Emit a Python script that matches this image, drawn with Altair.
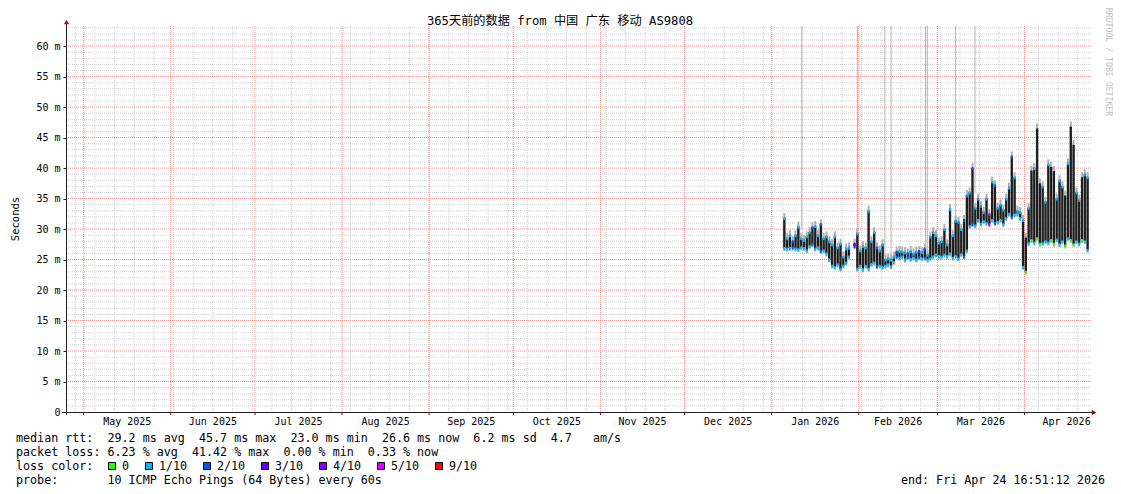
import altair as alt
import pandas as pd

# ---------------- data ----------------
title_text = "365天前的数据 from 中国 广东 移动 AS9808"
range_start = dict(year=2025, month=4, date=24, hours=16, minutes=51, seconds=12)
range_end = dict(year=2026, month=4, date=24, hours=16, minutes=51, seconds=12)

first_day = "2026-01-05T12:00:00"
rtt_low = [26.9, 26.8, 26.9, 27.0, 26.8, 26.7, 27.0, 26.9, 26.5, 27.2,
           27.5, 26.8, 27.0, 26.4, 26.5, 26.0, 25.0, 24.0, 23.8, 24.2,
           23.5, 24.0, 24.5, 25.5, None, 27.2, 23.5, 24.0, 23.4, 24.0,
           23.5, 24.3, 24.5, 23.9, 24.0, 23.8, 24.0, 24.2, 23.9, 24.6,
           25.5, 25.3, 25.5, 25.0, 25.4, 25.1, 25.3, 25.0, 25.4, 25.2,
           25.3, 25.0, 25.2, 25.5, 25.8, 25.6, 25.5, 25.8, 25.6, 26.0,
           25.3, 25.6, 25.2, 25.9, 25.5, 26.5, 30.5, 30.8, 30.6, 31.5,
           30.9, 31.3, 31.0, 30.8, 31.5, 31.0, 31.2, 31.5, 30.8, 31.8,
           32.5, 32.0, 32.4, 32.5, 31.8, 23.8, 23.0, 27.7, 28.2, 27.8,
           28.5, 27.6, 27.7, 28.0, 27.8, 28.2, 27.6, 28.3, 27.5, 28.0,
           27.3, 28.5, 28.2, 27.5, 28.0, 27.6, 28.2, 28.0, 26.6]
rtt_high = [31.8, 28.5, 29.0, 28.0, 29.0, 30.4, 28.5, 28.2, 28.8, 29.5,
            30.3, 30.5, 29.0, 30.8, 28.5, 28.8, 28.0, 27.5, 28.8, 27.0,
            27.6, 25.5, 26.8, 27.0, None, 27.6, 29.3, 26.5, 27.2, 27.0,
            33.0, 28.0, 29.5, 27.0, 26.5, 27.5, 25.0, 25.2, 25.0, 25.5,
            26.3, 26.4, 26.3, 26.2, 26.0, 26.4, 26.0, 26.3, 26.4, 26.2,
            26.8, 25.8, 28.8, 29.5, 29.0, 27.8, 28.0, 30.0, 27.5, 33.3,
            29.0, 31.4, 31.2, 30.0, 31.5, 35.6, 36.0, 40.0, 33.5, 35.0,
            33.8, 32.8, 35.0, 32.5, 37.8, 37.2, 33.5, 34.0, 33.2, 35.0,
            36.8, 41.9, 38.5, 33.0, 32.8, 31.5, 28.6, 33.5, 39.6, 40.0,
            46.5, 37.5, 37.0, 34.5, 40.6, 40.2, 39.5, 35.0, 38.0, 37.0,
            35.5, 40.8, 46.8, 43.8, 36.0, 34.8, 38.5, 39.0, 38.5]
# index into loss_labels, one per day
loss_code = [1, 1, 1, 2, 1, 1, 1, 1, 1, 1,
             2, 1, 1, 2, 1, 1, 1, 1, 1, 1,
             1, 1, 1, 1, 1, 3, 1, 1, 1, 1,
             1, 1, 1, 2, 1, 1, 1, 1, 1, 1,
             2, 1, 1, 1, 2, 1, 1, 1, 2, 1,
             2, 1, 1, 1, 1, 1, 1, 1, 1, 1,
             1, 1, 1, 1, 2, 1, 1, 2, 1, 1,
             1, 1, 1, 5, 1, 2, 1, 1, 1, 1,
             1, 2, 1, 1, 1, 1, 0, 1, 0, 1,
             0, 0, 1, 1, 1, 0, 0, 1, 1, 1,
             0, 1, 0, 0, 1, 1, 0, 1, 1]

# isolated very high single samples (grey smoke reaching off the chart)
spike_times = ["2026-01-11T17:00:00", "2026-01-31T12:00:00", "2026-02-10T07:00:00",
               "2026-02-12T12:00:00", "2026-02-24T19:00:00", "2026-02-25T10:00:00",
               "2026-03-07T12:00:00", "2026-03-14T10:00:00"]
spike_base = [30.0, 27.0, 25.5, 25.5, 26.5, 26.5, 30.0, 36.0]
spike_top = [70, 70, 70, 70, 70, 70, 70, 70]

loss_labels = ["0", "1/10", "2/10", "3/10", "4/10", "5/10", "9/10"]
loss_colors = ["#26ff00", "#00b8ff", "#0059ff", "#5e00ff", "#7e00ff", "#dd00ff", "#ff0000"]

month_labels = ["May 2025", "Jun 2025", "Jul 2025", "Aug 2025", "Sep 2025", "Oct 2025",
                "Nov 2025", "Dec 2025", "Jan 2026", "Feb 2026", "Mar 2026", "Apr 2026"]
y_ticks = [0, 5, 10, 15, 20, 25, 30, 35, 40, 45, 50, 55, 60]

stat_line1 = "median rtt:  29.2 ms avg  45.7 ms max  23.0 ms min  26.6 ms now  6.2 ms sd  4.7   am/s"
stat_line2 = "packet loss: 6.23 % avg  41.42 % max  0.00 % min  0.33 % now"
stat_line3 = "loss color:"
stat_line4 = "probe:       10 ICMP Echo Pings (64 Bytes) every 60s"
end_text = "end: Fri Apr 24 16:51:12 2026"
watermark = "RRDTOOL / TOBI OETIKER"

# ---------------- tables ----------------
days = pd.date_range(first_day, periods=len(rtt_low), freq="D")
rtt = pd.DataFrame({
    "t": days.strftime("%Y-%m-%dT%H:%M:%S"),
    "low": rtt_low,
    "high": rtt_high,
    "loss": [loss_labels[c] for c in loss_code],
}).dropna()

spikes = pd.DataFrame({"t": spike_times, "base": spike_base, "top": spike_top})

month_starts = pd.date_range("2025-05-01", "2026-04-01", freq="MS")
months = pd.DataFrame({"t": month_starts.strftime("%Y-%m-%dT00:00:00")})
mid = [ms + (ms + pd.offsets.MonthBegin(1) - ms) / 2 for ms in month_starts]
month_text = pd.DataFrame({"t": [m.strftime("%Y-%m-%dT%H:%M:%S") for m in mid],
                           "label": month_labels})
weeks = pd.date_range("2025-04-27", "2026-04-24", freq="W-MON")
weeks_df = pd.DataFrame({"t": weeks.strftime("%Y-%m-%dT00:00:00")})

h_minor = pd.DataFrame({"v": [v for v in range(1, 64) if v % 5 != 0]})
h_major = pd.DataFrame({"v": y_ticks[1:]})
one = pd.DataFrame({"a": [0]})

W, H = 1025, 386
xs = alt.Scale(domain=[alt.DateTime(**range_start), alt.DateTime(**range_end)])
ys = alt.Scale(domain=[0, 63.3], nice=False, zero=True)
MONO = "DejaVu Sans Mono"
NB = "\u00a0"

yax = alt.Axis(values=y_ticks, title=None, domain=False, grid=False, ticks=True, tickSize=3,
               tickColor="#222", labelFont=MONO, labelFontSize=10, labelColor="#000",
               labelPadding=3, labelExpr="datum.value == 0 ? '0' : datum.value + ' m'")


def Y(field):
    return alt.Y(field, scale=ys, axis=yax)


def X(field):
    return alt.X(field, scale=xs, axis=None)


yaxis = alt.Chart(pd.DataFrame({"v": y_ticks})).mark_rule(opacity=0).encode(y=Y("v:Q"))

grid_minor_h = alt.Chart(h_minor).mark_rule(color="#d2d2d2", strokeDash=[1, 1], strokeWidth=1).encode(
    y=Y("v:Q"))
grid_minor_v = alt.Chart(weeks_df).mark_rule(color="#d2d2d2", strokeDash=[1, 1], strokeWidth=1).encode(
    x=X("t:T"))
grid_major_h = alt.Chart(h_major).mark_rule(color="#f09090", strokeDash=[1, 1], strokeWidth=1).encode(
    y=Y("v:Q"))
grid_major_v = alt.Chart(months).mark_rule(color="#f09090", strokeDash=[1, 1], strokeWidth=1).encode(
    x=X("t:T"))

spike_layer = alt.Chart(spikes).mark_rule(color="#b4b4b4", strokeWidth=1, clip=True).encode(
    x=X("t:T"), y=Y("top:Q"), y2="base:Q")

smoke = alt.Chart(rtt).mark_rule(color="#b0b0b0", strokeWidth=2, yOffset=-5, y2Offset=3).encode(
    x=X("t:T"), y=Y("high:Q"), y2="low:Q")
body = alt.Chart(rtt).mark_rule(color="#1e1e1e", strokeWidth=2.3).encode(
    x=X("t:T"), y=Y("high:Q"), y2="low:Q")
cscale = alt.Scale(domain=loss_labels, range=loss_colors)
cap_low = alt.Chart(rtt).mark_rule(strokeWidth=2, yOffset=-1, y2Offset=2).encode(
    x=X("t:T"), y=Y("low:Q"), y2="low:Q",
    color=alt.Color("loss:N", scale=cscale, legend=None))
cap_high = alt.Chart(rtt).transform_filter(alt.datum.loss != "0").mark_rule(
    strokeWidth=2, yOffset=-1, y2Offset=2).encode(
    x=X("t:T"), y=Y("high:Q"), y2="high:Q",
    color=alt.Color("loss:N", scale=cscale, legend=None))

xticks = alt.Chart(months).mark_rule(color="#222", strokeWidth=1).encode(
    x=X("t:T"), y=alt.value(H), y2=alt.value(H + 3))
xlabels = alt.Chart(month_text).mark_text(font=MONO, fontSize=10, color="#000", baseline="middle").encode(
    x=X("t:T"), y=alt.value(H + 10), text="label:N")

axis_y = alt.Chart(one).mark_rule(color="#222", strokeWidth=1).encode(
    x=alt.value(0.5), y=alt.value(-4), y2=alt.value(H + 3))
axis_x = alt.Chart(one).mark_rule(color="#222", strokeWidth=1).encode(
    x=alt.value(-4), x2=alt.value(W + 2), y=alt.value(H + 0.5))
arrow_up = alt.Chart(one).mark_point(shape="triangle-up", filled=True, color="#8b1a1a", size=28, opacity=1).encode(
    x=alt.value(0.5), y=alt.value(-4))
arrow_right = alt.Chart(one).mark_point(shape="triangle-right", filled=True, color="#8b1a1a", size=28, opacity=1).encode(
    x=alt.value(W + 3), y=alt.value(H + 0.5))


def txt(s, x, y, **kw):
    props = dict(font=MONO, fontSize=11.7, color="#000", align="left", baseline="middle")
    props.update(kw)
    return alt.Chart(one).mark_text(text=s.replace(" ", NB), **props).encode(x=alt.value(x), y=alt.value(y))


title = txt(title_text, 494, -5, font="DejaVu Sans Mono, Noto Sans CJK SC", fontSize=12.2, align="center")
ytitle = txt("Seconds", -50, 193, fontSize=10.5, angle=270, align="center")
wm = txt(watermark, 1042, 36, fontSize=8.2, color="#c0c0c0", angle=90, align="center")

left = -50
lines = [txt(stat_line1, left, 412), txt(stat_line2, left, 426), txt(stat_line3, left, 440),
         txt(stat_line4, left, 454), txt(end_text, 1039, 454, align="right")]

legend_layers = []
box_x = [46, 83, 141, 199, 257, 315, 373]
for lab, col, bx in zip(loss_labels, loss_colors, box_x):
    legend_layers.append(
        alt.Chart(one).mark_square(color=col, fill=col, stroke="#000", strokeWidth=1, size=49, opacity=1).encode(
            x=alt.value(bx), y=alt.value(440)))
    legend_layers.append(txt(lab, bx + 10, 440))

chart = alt.layer(
    yaxis, grid_minor_h, grid_minor_v, grid_major_h, grid_major_v,
    spike_layer, smoke, body, cap_low, cap_high,
    xticks, xlabels, axis_y, axis_x, arrow_up, arrow_right,
    title, ytitle, wm, *lines, *legend_layers,
).properties(
    width=W, height=H,
    padding={"left": 58, "top": 18, "right": 22, "bottom": 76},
    autosize=alt.AutoSizeParams(type="none"),
    background="#ffffff",
).configure_view(stroke=None)

chart.save("out.html", embed_options={"renderer": "svg", "actions": False})
